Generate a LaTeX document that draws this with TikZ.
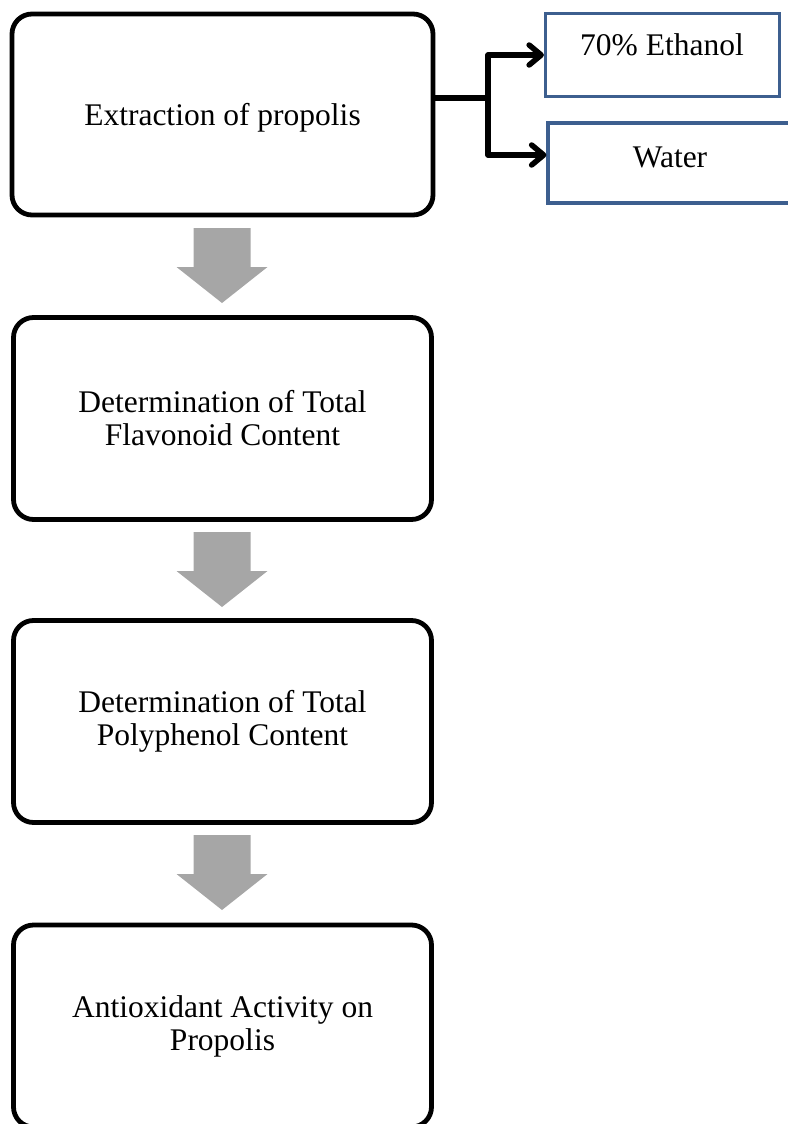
\documentclass[tikz,border=0pt]{standalone}
\usepackage{fontspec}
\setmainfont{Liberation Serif}
\usetikzlibrary{arrows.meta}
\definecolor{boxblue}{HTML}{3D5F8F}
\definecolor{arrowgray}{HTML}{A6A6A6}
\begin{document}
\begin{tikzpicture}[x=1pt,y=-1pt,
  mainbox/.style={draw=black, line width=4.8pt, rounded corners=20pt, minimum width=418pt, minimum height=202pt, align=center, inner sep=0pt, font=\fontsize{31.5}{33}\selectfont},
  bluebox/.style={draw=boxblue, line width=3.2pt, minimum width=234pt, minimum height=83pt, inner sep=0pt},
  txt/.style={font=\fontsize{31.5}{33}\selectfont, inner sep=0pt},
  flowarrow/.style={fill=arrowgray, draw=none},
  conn/.style={draw=black, line width=5.5pt},
  tip/.style={-{Straight Barb[length=12pt,width=20pt,line cap=round,line join=round]}}
]
\useasboundingbox (0,0) rectangle (787,1124);

\node[mainbox, minimum width=421pt, minimum height=201pt, text depth=0pt] (b1) at (222.5,114.5) {Extraction of propolis};
\node[mainbox] (b2) at (222.5,418.5) {Determination of Total\\Flavonoid Content};
\node[mainbox] (b3) at (222.5,721.5) {Determination of Total\\Polyphenol Content};
\node[mainbox] (b4) at (222.5,1026) {Antioxidant Activity on\\Propolis};

\node[bluebox] (eth) at (662.5,55) {};
\node[txt] (ethT) at (662,45) {70\% Ethanol};
\node[bluebox, minimum width=244pt, minimum height=80pt] (wat) at (670,163) {};
\node[txt] (watT) at (670,157) {Water};

% connector
\coordinate (jn) at (488,98);
\coordinate (up) at (488,55);
\coordinate (dn) at (488,155);
\draw[conn, line join=round] (b1.east |- jn) -- (jn);
\draw[conn, tip, line join=round] ([yshift=-2.75pt]jn) -- (up) -- (up -| eth.west);
\draw[conn, tip, line join=round] ([yshift=2.75pt]jn) -- (dn) -- (dn -| wat.west);

% flow arrows
\foreach \t/\n in {228/a1,532/a2,835/a3}{
  \fill[flowarrow] (193.5,\t) -- (250.5,\t) -- (250.5,\t+39) -- (267.5,\t+39) -- (222,\t+75) -- (176.5,\t+39) -- (193.5,\t+39) -- cycle;
}
\end{tikzpicture}
\end{document}
